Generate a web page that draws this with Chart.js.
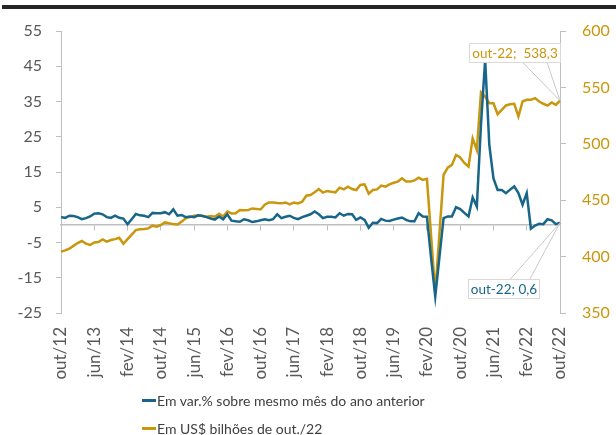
<!DOCTYPE html>
<html lang="pt-BR">
<head>
<meta charset="utf-8">
<script src="https://cdn.jsdelivr.net/npm/chart.js@4/dist/chart.umd.min.js"></script>
<style>
  html, body { margin: 0; padding: 0; background: #fff; }
  #wrap { position: relative; width: 616px; height: 435px; overflow: hidden; }
  #topRule { position: absolute; left: 2px; right: 0; top: 5px; height: 4px; background: #262626; }
  #legend { position: absolute; left: 142px; top: 386px; font: 14px Lato, sans-serif; color: #404040; }
  #legend .item { height: 28px; display: flex; align-items: center; white-space: nowrap; }
  #legend .mark { display: inline-block; width: 14px; height: 3px; margin-right: 1px; }
</style>
</head>
<body>
<div id="wrap">
  <canvas id="chart" width="616" height="435"></canvas>
  <div id="topRule"></div>
  <div id="legend"></div>
</div>
<script>
// meses em pt-BR, série começa em out/12
const monthNames = ['jan', 'fev', 'mar', 'abr', 'mai', 'jun', 'jul', 'ago', 'set', 'out', 'nov', 'dez'];
const firstMonth = 9;
const firstYear = 12;
const monthCount = 121;
const tickEvery = 8;

const seriesNames = ['Em var.% sobre mesmo mês do ano anterior', 'Em US$ bilhões de out./22'];

// variação % sobre o mesmo mês do ano anterior (eixo esquerdo)
const varPct = [
  2.2, 2.0, 2.6, 2.5, 2.2, 1.6, 1.9, 2.4, 3.2, 3.3,
  3.0, 2.2, 2.0, 2.6, 2.0, 1.8, 0.2, 1.6, 3.1, 2.7,
  2.6, 2.2, 3.4, 3.3, 3.3, 3.6, 3.0, 4.4, 2.6, 2.8,
  2.2, 2.4, 2.2, 2.7, 2.5, 2.2, 1.8, 1.5, 2.4, 1.6,
  3.0, 1.2, 1.0, 0.9, 1.6, 1.3, 0.8, 1.0, 1.3, 1.6,
  1.3, 1.6, 3.0, 1.9, 2.3, 2.6, 2.0, 1.6, 2.2, 2.6,
  3.0, 3.8, 3.0, 1.9, 2.3, 2.3, 2.1, 3.3, 2.6, 3.1,
  3.0, 1.4, 2.1, 1.4, -0.8, 0.6, 0.5, 1.7, 1.2, 1.1,
  1.5, 1.8, 2.1, 1.4, 1.0, 1.0, 3.3, 2.4, 2.3, -9.4,
  -20.3, -9.2, 1.9, 2.4, 2.4, 5.0, 4.5, 3.4, 2.4, 7.8,
  5.2, 28.5, 46.8, 22.7, 13.2, 9.9, 9.9, 9.0, 10.0, 10.9,
  9.0, 5.7, 9.0, -1.1, -0.2, 0.3, 0.2, 1.6, 1.3, 0.2, 0.6
];

// US$ bilhões de out./22 (eixo direito)
const usdBillions = [
  404.4, 405.5, 407.0, 409.5, 412.0, 413.8, 411.5, 410.3, 412.6, 413.0,
  415.3, 413.2, 414.7, 415.5, 416.7, 411.4, 415.5, 419.5, 423.5, 424.2,
  424.5, 425.0, 427.4, 426.5, 428.0, 430.3, 429.5, 428.8, 428.5, 431.0,
  433.9, 435.0, 436.2, 436.5, 436.2, 435.3, 436.0, 435.3, 438.0, 435.5,
  440.0, 438.3, 438.4, 441.2, 441.0, 441.2, 442.7, 442.3, 441.8, 446.0,
  448.0, 448.0, 447.5, 447.2, 448.0, 446.3, 448.0, 447.2, 448.7, 454.0,
  454.6, 457.0, 459.9, 456.7, 458.2, 457.5, 457.0, 461.1, 459.6, 462.0,
  459.9, 459.0, 463.5, 464.1, 455.8, 459.0, 459.6, 462.9, 462.0, 464.1,
  465.5, 466.5, 469.4, 466.5, 466.5, 467.5, 470.0, 468.0, 468.9, 418.6,
  367.5, 420.0, 472.4, 478.9, 481.3, 490.1, 487.8, 483.0, 479.8, 504.9,
  494.6, 545.7, 541.9, 536.0, 536.0, 526.3, 530.1, 534.0, 535.1, 535.4,
  524.2, 537.5, 539.0, 539.0, 540.5, 537.5, 535.5, 533.9, 536.6, 534.5, 538.3
];

const teal = '#17668a';
const gold = '#c9960c';
const axisGray = '#bfbfbf';
const tickText = '#595959';

const labels = [];
for (let i = 0; i < monthCount; i++) {
  const m = (firstMonth + i) % 12;
  const y = firstYear + Math.floor((firstMonth + i) / 12);
  labels.push(monthNames[m] + '/' + y);
}

// rótulos de dado no último ponto (estilo Excel)
const callouts = [
  { dataset: 1, sep: ';  ', color: gold, dx: -45, dy: -48, anchors: [0.59, 0.85] },
  { dataset: 0, sep: '; ', color: teal, dx: -56, dy: 66, anchors: [0.59, 0.86] }
];

const calloutPlugin = {
  id: 'callouts',
  afterDatasetsDraw(chart) {
    const { ctx } = chart;
    callouts.forEach(c => {
      const meta = chart.getDatasetMeta(c.dataset);
      const last = meta.data.length - 1;
      const pt = meta.data[last];
      const value = chart.data.datasets[c.dataset].data[last];
      const text = chart.data.labels[last].replace('/', '-') + c.sep + String(value).replace('.', ',');
      ctx.save();
      ctx.font = '13.5px Lato, sans-serif';
      const w = Math.round(ctx.measureText(text).width + 6);
      const h = 20;
      const bx = Math.round(pt.x + c.dx - w / 2);
      const by = Math.round(pt.y + c.dy - h / 2);
      const edgeY = c.dy < 0 ? by + h : by;
      ctx.strokeStyle = '#c8c8c8';
      ctx.lineWidth = 1;
      c.anchors.forEach(a => {
        ctx.beginPath();
        ctx.moveTo(bx + a * w, edgeY);
        ctx.lineTo(pt.x, pt.y);
        ctx.stroke();
      });
      ctx.fillStyle = '#fff';
      ctx.fillRect(bx, by, w, h);
      ctx.strokeStyle = '#d9d9d9';
      ctx.strokeRect(bx + 0.5, by + 0.5, w - 1, h - 1);
      ctx.fillStyle = c.color;
      ctx.textAlign = 'center';
      ctx.textBaseline = 'middle';
      ctx.fillText(text, bx + w / 2, by + h / 2 + 1);
      ctx.restore();
    });
  }
};

const keepLabelled = axis => {
  axis.ticks = axis.ticks.filter(t => t.value % tickEvery === 0);
};

Chart.defaults.font.family = 'Lato, sans-serif';

const chart = new Chart(document.getElementById('chart'), {
  type: 'line',
  data: {
    labels: labels,
    datasets: [
      { label: seriesNames[0], data: varPct, yAxisID: 'y', borderColor: teal, backgroundColor: teal,
        borderWidth: 2.5, pointRadius: 0, tension: 0 },
      { label: seriesNames[1], data: usdBillions, yAxisID: 'y1', borderColor: gold, backgroundColor: gold,
        borderWidth: 2.5, pointRadius: 0, tension: 0 }
    ]
  },
  options: {
    responsive: false,
    animation: false,
    devicePixelRatio: 1,
    layout: { padding: { top: 31, left: 0, right: 0, bottom: 0 } },
    plugins: { legend: { display: false }, tooltip: { enabled: false } },
    scales: {
      x: {
        type: 'category',
        position: 'bottom',
        offset: false,
        grid: { display: false, drawTicks: false },
        border: { display: false },
        ticks: { autoSkip: false, minRotation: 90, maxRotation: 90, padding: 14, color: tickText, font: { size: 17 } },
        afterBuildTicks: keepLabelled,
        afterFit: s => { s.height = 122; }
      },
      x0: {
        type: 'category',
        position: { y: 0 },
        offset: false,
        grid: { drawOnChartArea: false, drawTicks: true, tickLength: 5, color: axisGray },
        border: { color: axisGray, width: 1.5 },
        ticks: { display: false },
        afterBuildTicks: keepLabelled
      },
      y: {
        position: 'left',
        min: -25,
        max: 55,
        ticks: { stepSize: 10, padding: 14, color: tickText, font: { size: 16 } },
        grid: { drawOnChartArea: false, tickLength: 5, color: axisGray },
        border: { color: axisGray },
        afterFit: s => { s.width = 61; }
      },
      y1: {
        position: 'right',
        min: 350,
        max: 600,
        ticks: { stepSize: 50, padding: 16, color: gold, font: { size: 16 } },
        grid: { drawOnChartArea: false, tickLength: 6, color: axisGray },
        border: { color: axisGray },
        afterFit: s => { s.width = 56; }
      }
    }
  },
  plugins: [calloutPlugin]
});

// legenda em HTML, uma linha por série
const legendBox = document.getElementById('legend');
chart.data.datasets.forEach(ds => {
  const row = document.createElement('div');
  row.className = 'item';
  const mark = document.createElement('span');
  mark.className = 'mark';
  mark.style.background = ds.borderColor;
  row.appendChild(mark);
  row.appendChild(document.createTextNode(ds.label));
  legendBox.appendChild(row);
});
</script>
</body>
</html>
